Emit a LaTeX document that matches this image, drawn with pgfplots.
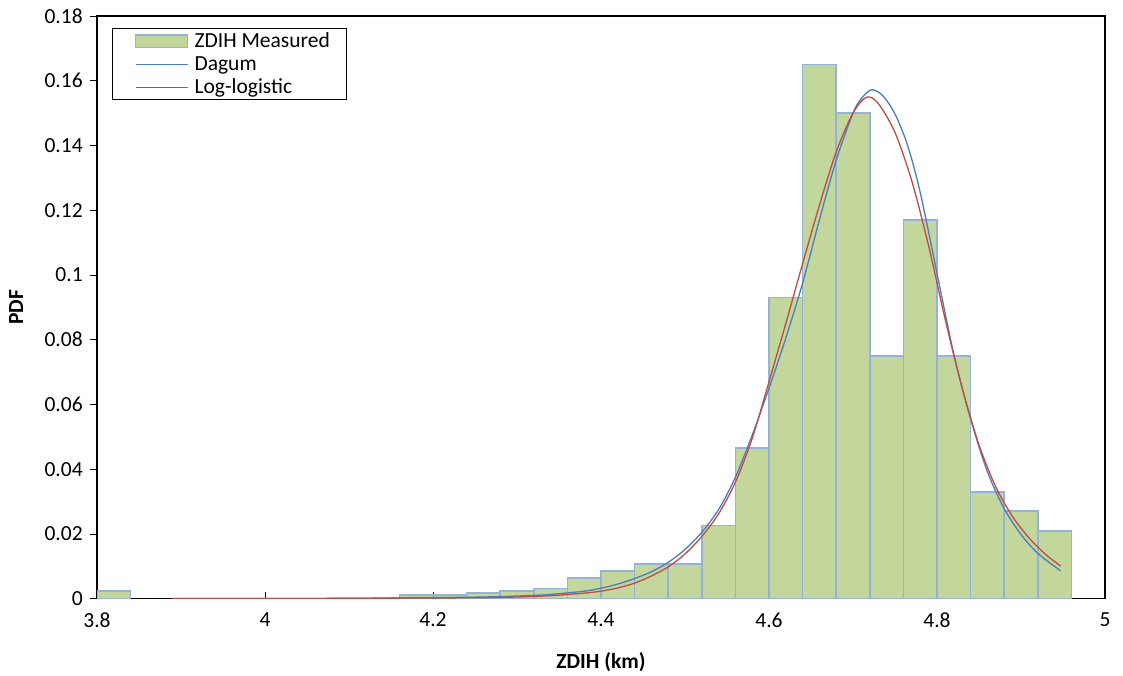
\documentclass[border=0pt]{standalone}
\usepackage{fontspec}
\setmainfont{Carlito}
\usepackage{pgfplots}
\pgfplotsset{compat=1.18}
\usetikzlibrary{calc}

\definecolor{barfill}{RGB}{195,214,155}
\definecolor{baredge}{RGB}{149,179,215}
\definecolor{dagum}{RGB}{74,126,187}
\definecolor{loglog}{RGB}{190,75,72}

\pgfplotsset{
    boxlegend/.style={legend image code/.code={%
        \path[draw=none,fill=none] (0cm,-0.1cm) rectangle (1.226cm,0.1cm);
        \draw[##1] (0.376cm,-0.1cm) rectangle (1.226cm,0.1cm);}},
    linelegend/.style={legend image code/.code={%
        \path[draw=none,fill=none] (0cm,-0.1cm) rectangle (1.226cm,0.1cm);
        \draw[##1] (0.376cm,0cm) -- (1.226cm,0cm);}},
}

% histogram: bin centres (width 0.04) and relative frequency
\pgfplotstableread{
x y
3.82 0.0023
4.18 0.0012
4.22 0.0012
4.26 0.0017
4.30 0.0023
4.34 0.0031
4.38 0.0063
4.42 0.0085
4.46 0.0108
4.50 0.0108
4.54 0.0226
4.58 0.0466
4.62 0.0930
4.66 0.1650
4.70 0.1500
4.74 0.0750
4.78 0.1170
4.82 0.0750
4.86 0.0330
4.90 0.0270
4.94 0.0210
}\measured

\pgfplotstableread{
x y
3.89 0
4.00 0.0000
4.10 0.0001
4.20 0.0003
4.26 0.0005
4.30 0.0008
4.34 0.0013
4.38 0.0023
4.40 0.0032
4.42 0.0045
4.44 0.0062
4.46 0.0083
4.48 0.0112
4.50 0.0152
4.52 0.0205
4.54 0.0275
4.56 0.0375
4.58 0.0505
4.60 0.0650
4.62 0.0805
4.64 0.0975
4.66 0.1170
4.68 0.1355
4.70 0.1500
4.71 0.1545
4.722 0.1572
4.735 0.1555
4.75 0.1497
4.765 0.1400
4.78 0.1255
4.80 0.1005
4.82 0.0755
4.84 0.0555
4.86 0.0392
4.88 0.0278
4.90 0.0198
4.92 0.0140
4.947 0.0086
}\dagum

\pgfplotstableread{
x y
3.89 0
4.00 0.0000
4.10 0.0001
4.20 0.0002
4.26 0.0003
4.30 0.0005
4.34 0.0009
4.38 0.0017
4.40 0.0023
4.42 0.0033
4.44 0.0048
4.46 0.0070
4.48 0.0098
4.50 0.0138
4.52 0.0192
4.54 0.0262
4.56 0.0360
4.58 0.0495
4.60 0.0670
4.62 0.0850
4.64 0.1035
4.66 0.1215
4.68 0.1380
4.70 0.1500
4.716 0.1549
4.73 0.1530
4.75 0.1440
4.77 0.1290
4.79 0.1090
4.81 0.0860
4.83 0.0650
4.85 0.0475
4.87 0.0345
4.89 0.0253
4.91 0.0186
4.93 0.0135
4.947 0.0101
}\loglogistic

\begin{document}
\begin{tikzpicture}
\begin{axis}[
    name=ax,
    scale only axis,
    width=16.47cm,
    height=9.52cm,
    xmin=3.8, xmax=5,
    ymin=0, ymax=0.18,
    xtick={3.8,4,4.2,4.4,4.6,4.8,5},
    ytick={0,0.02,0.04,0.06,0.08,0.1,0.12,0.14,0.16,0.18},
    xtick pos=bottom,
    ytick pos=left,
    x tick style={black,yshift=0.11cm},
    y tick style={black},
    tick align=outside,
    major tick length=0.11cm,
    /pgf/number format/assume math mode=true,
    xticklabel style={/pgf/number format/fixed,/pgf/number format/precision=1,font=\fontsize{10}{12}\selectfont},
    yticklabel style={/pgf/number format/fixed,/pgf/number format/precision=2,font=\fontsize{10}{12}\selectfont},
    axis line style={black,line width=0.6pt},
    xlabel={\textbf{ZDIH (km)}},
    ylabel={\textbf{PDF}},
    label style={font=\fontsize{10}{12}\selectfont},
    xlabel style={yshift=-0.16cm},
    ylabel style={yshift=0.11cm},
    legend style={at={(0.0149,0.979)},anchor=north west,draw=black,line width=0.5pt,
        font=\fontsize{10}{12}\selectfont,inner xsep=0pt,inner ysep=0.5pt,row sep=0pt,
        nodes={inner xsep=0.1cm,inner ysep=0pt,text height=8.2pt,text depth=2.5pt}},
    legend cell align=left,
]
\addplot[ybar,bar width=0.04,bar shift=0pt,fill=barfill,draw=baredge,line width=0.8pt,boxlegend]
    table[x=x,y=y] {\measured};
\addlegendentry{\makebox[2.38cm][l]{ZDIH Measured}}
\addplot[dagum,line width=0.6pt,smooth,tension=0.5,linelegend]
    table[x=x,y=y] {\dagum};
\addlegendentry{\makebox[2.38cm][l]{Dagum}}
\addplot[loglog,line width=0.6pt,smooth,tension=0.5,linelegend]
    table[x=x,y=y] {\loglogistic};
\addlegendentry{\makebox[2.38cm][l]{Log-logistic}}
\end{axis}
\pgfresetboundingbox
\path[use as bounding box] ($(ax.south west)+(-1.585cm,-1.25cm)$) rectangle ($(ax.north east)+(0.294cm,0.261cm)$);
\end{tikzpicture}
\end{document}
